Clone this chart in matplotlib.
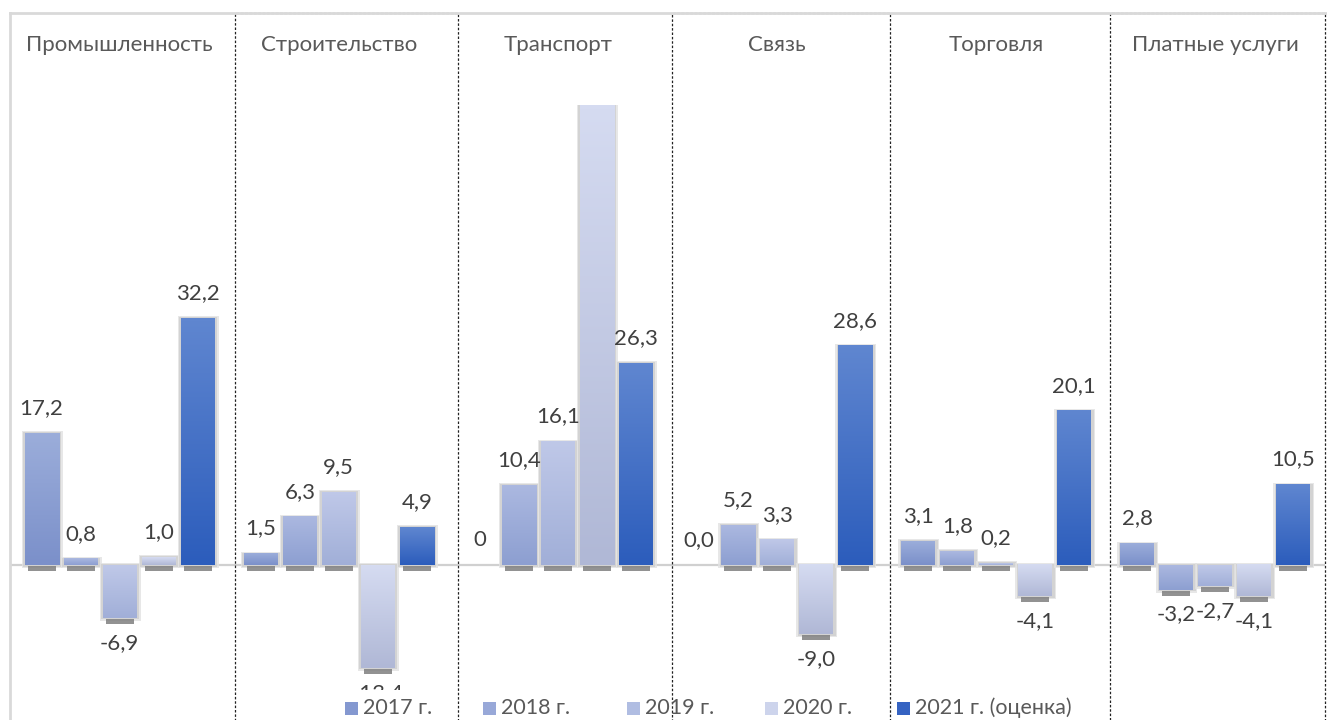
import matplotlib
matplotlib.use("Agg")
import matplotlib.pyplot as plt
import numpy as np
from matplotlib.colors import LinearSegmentedColormap
from matplotlib.patches import Rectangle
from matplotlib.lines import Line2D
import matplotlib.transforms as mtransforms

plt.rcParams['font.family'] = ['Lato', 'DejaVu Sans']

# отрасли
categories = ["Промышленность", "Строительство", "Транспорт", "Связь", "Торговля", "Платные услуги"]
series = ["2017 г.", "2018 г.", "2019 г.", "2020 г.", "2021 г. (оценка)"]

# значения по годам (для каждой отрасли)
v2017 = [17.2, 1.5, 0, 0.0, 3.1, 2.8]
v2018 = [0.8, 6.3, 10.4, 5.2, 1.8, -3.2]
v2019 = [-6.9, 9.5, 16.1, 3.3, 0.2, -2.7]
v2020 = [1.0, -13.4, 60.0, -9.0, -4.1, -4.1]   # транспорт 2020 уходит за верх графика
v2021 = [32.2, 4.9, 26.3, 28.6, 20.1, 10.5]
values = [v2017, v2018, v2019, v2020, v2021]

# цвета (верх / низ градиента)
tops = ['#9badda', '#abb8e0', '#bfc8e8', '#d5dbf1', '#5f86d0']
bottoms = ['#7b90ca', '#8d9fd1', '#a1afd8', '#b0b8d6', '#2c5dbc']
legend_cols = ['#8498d0', '#98a8d8', '#b0bde2', '#cdd4ec', '#3563c2']

W, H = 1327, 720
fig = plt.figure(figsize=(W / 100, H / 100), dpi=100)
ax = fig.add_axes([10 / W, (H - 690) / H, 1315 / W, 585 / H])
ax.set_xlim(-0.5, 5.5)
ax.set_ylim(-16.3, 60)
ax.axis('off')

px = 76.3 / 585          # единиц на пиксель по y
pxx = 6 / 1315           # по x
step = 39 * pxx
bw = 34 * pxx

ax.axhline(0, color='#d0d0d0', lw=1.6, zorder=1)

for j, vals in enumerate(values):
    cmap = LinearSegmentedColormap.from_list('g%d' % j, [tops[j], bottoms[j]])
    grad = np.linspace(0, 1, 64).reshape(-1, 1)
    for i, v in enumerate(vals):
        xc = i + (j - 2) * step
        x0, x1 = xc - bw / 2, xc + bw / 2
        lo, hi = min(0, v), max(0, v)
        if v != 0:
            # мягкая тень
            ax.add_patch(Rectangle((x0 - 3 * pxx, lo - 3 * px), bw + 7 * pxx, hi - lo + 5 * px,
                                   facecolor='#e2e2e2', edgecolor='none', alpha=0.8, zorder=2))
            ax.add_patch(Rectangle((x0 - 1.5 * pxx, lo - 1.5 * px), bw + 4 * pxx, hi - lo + 2.5 * px,
                                   facecolor='#cfcfcf', edgecolor='none', alpha=0.8, zorder=2))
            # тёмная полоска снизу
            yb = 0 if v > 0 else v
            ax.add_patch(Rectangle((x0 + 3 * pxx, yb - 6 * px), bw - 6 * pxx, 5 * px,
                                   facecolor='#7f7f7f', edgecolor='none', alpha=0.85, zorder=2))
            ax.imshow(grad, cmap=cmap, extent=[x0, x1, lo, hi], aspect='auto',
                      origin='upper', zorder=3, interpolation='bilinear')
        if isinstance(v, int):
            lab = str(v)
        else:
            lab = f"{v:.1f}".replace('.', ',')
        if v > ax.get_ylim()[1]:
            continue
        off = 25 if v >= 0 else -25
        ax.annotate(lab, (xc, v), xytext=(0, off * 0.72), textcoords='offset points',
                    ha='center', va='center', fontsize=16, color='#404040',
                    annotation_clip=False, clip_on=True, zorder=5)

ax.set_xlim(-0.5, 5.5)
ax.set_ylim(-16.3, 60)

# заголовки отраслей
tr = mtransforms.blended_transform_factory(ax.transData, fig.transFigure)
for i, c in enumerate(categories):
    ax.text(i, (H - 45) / H, c, transform=tr, ha='center', va='center',
            fontsize=16, color='#595959', clip_on=False)

# рамка графика
fig.add_artist(Line2D([10 / W, 10 / W], [0, (H - 13) / H], color='#d9d9d9', lw=2))
fig.add_artist(Line2D([10 / W, 1], [(H - 13) / H, (H - 13) / H], color='#d9d9d9', lw=2))

# пунктирные рамки
for a, b in [(235, 458), (672, 890), (1110, 1325)]:
    fig.add_artist(Rectangle((a / W, -0.01), (b - a) / W, (H - 13) / H + 0.01, fill=False,
                             edgecolor='#222222', lw=0.9, linestyle=(0, (2, 1.5)),
                             transform=fig.transFigure))

# легенда
lx = [345, 483, 627, 765, 897]
for k, s in enumerate(series):
    fig.add_artist(Rectangle((lx[k] / W, (H - 715) / H), 13 / W, 13 / H,
                             facecolor=legend_cols[k], edgecolor='none', transform=fig.transFigure))
    fig.text((lx[k] + 18) / W, (H - 708) / H, s, ha='left', va='center',
             fontsize=15.5, color='#595959')

fig.savefig('out.png', dpi=100)
